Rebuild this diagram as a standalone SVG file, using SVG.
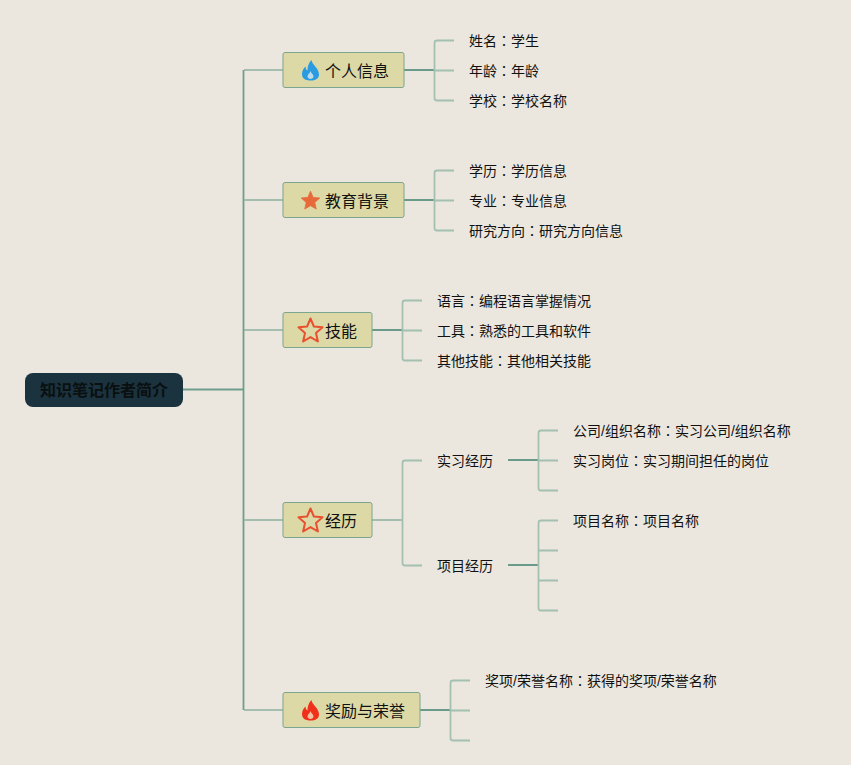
<svg xmlns="http://www.w3.org/2000/svg" width="851" height="765" viewBox="0 0 851 765">
<defs>
<path id="star" d="M0 -12L3.400 -4L12 -3.200L5.500 2.500L7.400 11L0 6.600L-7.400 11L-5.500 2.500L-12 -3.200L-3.400 -4Z"/>
<path id="flame" d="M1 -10.500C1.500 -5.500 8.500 -2.500 8.500 4C8.500 8 5 10 0 10C-5 10 -8.500 8 -8.500 3.500C-8.500 0 -6.500 -2.500 -5 -4C-5 -1.500 -4 -0.500 -3 0C-3 -4 -2 -7.500 1 -10.500Z"/>
<path id="hole" d="M0 0.500C0.500 2.500 3 4 3 6C3 7.500 1.500 8.500 0 8.500C-1.500 8.500 -3 7.500 -3 6C-3 4 -0.500 2.500 0 0.500Z"/>
</defs>
<style>
text{font-family:"Liberation Sans","Noto Sans CJK SC",sans-serif;fill:#111}
.l{font-size:14px}
.t{font-size:16px}
.k{font-family:"Noto Sans CJK TC",sans-serif}
.box{fill:#dcd9a7;stroke:#7ba58c;stroke-width:1}
.c1{fill:none;stroke:#6f9f8c;stroke-width:1.800}
.c2{fill:none;stroke:#8fb09f;stroke-width:1.500}
.th{fill:none;stroke:#6a9a8a;stroke-width:2}
.c3{fill:none;stroke:#a3c0b0;stroke-width:1.800}
.h{fill:#dcd9a7}
.so{fill:none;stroke:#e8502f;stroke-width:2;stroke-linejoin:round}
</style>
<rect width="851" height="765" fill="#ebe7df"/>
<g id="connectors">
<path class="c1" d="M183 389.500H243M243.500 70V710"/>
<path class="c2" d="M244 70H283M244 200H283M244 330H283M244 520H283M244 710H283M372 520H402"/>
<path class="th" d="M404 70H434M404 200H434M372 330H402M508 460H538M508 565H538M420 710H450"/>
<path class="c3" d="M454 40.500H437Q434.500 40.500 434.500 43V98Q434.500 100.500 437 100.500H454M434 70.500H454"/>
<path class="c3" d="M454 170.500H437Q434.500 170.500 434.500 173V228Q434.500 230.500 437 230.500H454M434 200.500H454"/>
<path class="c3" d="M422 300.500H405Q402.500 300.500 402.500 303V358Q402.500 360.500 405 360.500H422M402 330.500H422"/>
<path class="c3" d="M422 460.500H405Q402.500 460.500 402.500 463V563Q402.500 565.500 405 565.500H422"/>
<path class="c3" d="M558 430.500H541Q538.500 430.500 538.500 433V488Q538.500 490.500 541 490.500H558M538 460.500H558"/>
<path class="c3" d="M558 520.500H541Q538.500 520.500 538.500 523V608Q538.500 610.500 541 610.500H558M538 550.500H558M538 580.500H558"/>
<path class="c3" d="M470 680.500H453Q450.500 680.500 450.500 683V738Q450.500 740.500 453 740.500H470M450 710.500H470"/>
</g>
<g id="root"><rect x="25" y="373" width="158" height="34" rx="8" fill="#1a333e"/><text x="40" y="396" font-size="16" font-weight="700" style="fill:#0a0f10">知识笔记作者简介</text></g>
<g id="n1"><rect class="box" x="283" y="52.500" width="121" height="35" rx="2"/><use href="#flame" x="310.500" y="70.500" fill="#2a9be0"/><use href="#hole" x="310.500" y="70.500" fill="#b9dcec"/><text class="t" x="325" y="77">个人信息</text></g>
<g id="n1a"><text class="l" x="469" y="46">姓名<tspan class="k">：</tspan>学生</text></g>
<g id="n1b"><text class="l" x="469" y="76">年龄<tspan class="k">：</tspan>年龄</text></g>
<g id="n1c"><text class="l" x="469" y="106">学校<tspan class="k">：</tspan>学校名称</text></g>
<g id="n2"><rect class="box" x="283" y="182.500" width="121" height="35" rx="2"/><use href="#star" transform="translate(310.500 200.500) scale(.78)" fill="#e8693a" stroke="#e8693a" stroke-linejoin="round"/><text class="t" x="325" y="207">教育背景</text></g>
<g id="n2a"><text class="l" x="469" y="176">学历<tspan class="k">：</tspan>学历信息</text></g>
<g id="n2b"><text class="l" x="469" y="206">专业<tspan class="k">：</tspan>专业信息</text></g>
<g id="n2c"><text class="l" x="469" y="236">研究方向<tspan class="k">：</tspan>研究方向信息</text></g>
<g id="n3"><rect class="box" x="283" y="312.500" width="89" height="35" rx="2"/><use href="#star" x="310.500" y="330.500" class="so"/><text class="t" x="325" y="337">技能</text></g>
<g id="n3a"><text class="l" x="437" y="306">语言<tspan class="k">：</tspan>编程语言掌握情况</text></g>
<g id="n3b"><text class="l" x="437" y="336">工具<tspan class="k">：</tspan>熟悉的工具和软件</text></g>
<g id="n3c"><text class="l" x="437" y="366">其他技能<tspan class="k">：</tspan>其他相关技能</text></g>
<g id="n4"><rect class="box" x="283" y="502.500" width="89" height="35" rx="2"/><use href="#star" x="310.500" y="520.500" class="so"/><text class="t" x="325" y="527">经历</text></g>
<g id="n4a"><text class="l" x="437" y="466">实习经历</text></g>
<g id="n4b"><text class="l" x="437" y="571">项目经历</text></g>
<g id="n4a1"><text class="l" x="573" y="436">公司/组织名称<tspan class="k">：</tspan>实习公司/组织名称</text></g>
<g id="n4a2"><text class="l" x="573" y="466">实习岗位<tspan class="k">：</tspan>实习期间担任的岗位</text></g>
<g id="n4b1"><text class="l" x="573" y="526">项目名称<tspan class="k">：</tspan>项目名称</text></g>
<g id="n5"><rect class="box" x="283" y="692.500" width="137" height="35" rx="2"/><use href="#flame" x="310.500" y="710.500" fill="#f0301a"/><use href="#hole" x="310.500" y="710.500" fill="#f3c0a0"/><text class="t" x="325" y="717">奖励与荣誉</text></g>
<g id="n5a"><text class="l" x="485" y="686">奖项/荣誉名称<tspan class="k">：</tspan>获得的奖项/荣誉名称</text></g>
</svg>
